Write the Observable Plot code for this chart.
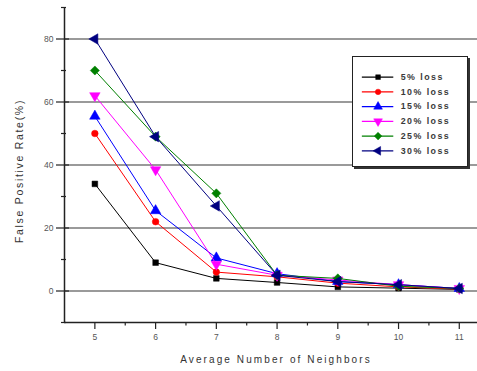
<!DOCTYPE html>
<html>
<head>
<meta charset="utf-8">
<script src="https://cdn.jsdelivr.net/npm/d3@7"></script>
<script src="https://cdn.jsdelivr.net/npm/@observablehq/plot@0.6"></script>
<style>
  body { margin: 0; background: #fff; }
  #chart { position: relative; width: 477px; height: 371px; font-family: "Liberation Sans", Arial, sans-serif; }
  #legend { position: absolute; left: 352px; top: 56px; }
  #legend svg { display: block; background: #fff; border: 1px solid #222; box-sizing: border-box; box-shadow: 2px 2px 0 #333; }
</style>
</head>
<body>
<div id="chart"><div id="legend"></div></div>
<script>
// Average number of neighbors (x) and false positive rate in % per loss level
const neighbors = [5, 6, 7, 8, 9, 10, 11];
const series = ["5% loss", "10% loss", "15% loss", "20% loss", "25% loss", "30% loss"];
const loss5  = [34, 9, 4, 2.7, 1.3, 0.9, 0.5];
const loss10 = [50, 22, 6, 4.5, 2.5, 1.3, 0.6];
const loss15 = [55.5, 25.5, 10.5, 5.5, 3, 2, 0.8];
const loss20 = [62, 38.5, 8.5, 5, 3.5, 2, 0.8];
const loss25 = [70, 49, 31, 5, 4, 1.5, 0.8];
const loss30 = [80, 49, 27, 5, 3, 2, 0.8];
const colors = ["#000000", "#ff0000", "#0000ff", "#ff00ff", "#008000", "#000080"];

const xTitle = "Average Number of Neighbors";
const yTitle = "False Positive Rate(%)";
const yMajor = [0, 20, 40, 60, 80];
const yMinor = [-10, 10, 30, 50, 70, 90];
const xMajor = [5, 6, 7, 8, 9, 10, 11];
const xMinor = [5.5, 6.5, 7.5, 8.5, 9.5, 10.5];

// Custom triangle symbols (pointing down and left) in the style of d3.symbolTriangle
const triDown = {
  draw(ctx, size) {
    const y = -Math.sqrt(size / (Math.sqrt(3) * 3));
    ctx.moveTo(0, -2 * y);
    ctx.lineTo(-Math.sqrt(3) * y, y);
    ctx.lineTo(Math.sqrt(3) * y, y);
    ctx.closePath();
  }
};
const triLeft = {
  draw(ctx, size) {
    const y = -Math.sqrt(size / (Math.sqrt(3) * 3));
    ctx.moveTo(2 * y, 0);
    ctx.lineTo(-y, Math.sqrt(3) * y);
    ctx.lineTo(-y, -Math.sqrt(3) * y);
    ctx.closePath();
  }
};
const symbols = [d3.symbolSquare, d3.symbolCircle, d3.symbolTriangle, triDown, d3.symbolDiamond2, triLeft];
const radii = [3.2, 3.3, 3.9, 3.9, 4.1, 3.9];

const values = [loss5, loss10, loss15, loss20, loss25, loss30];
const rows = [];
series.forEach((s, i) => {
  neighbors.forEach((n, j) => rows.push({series: s, idx: i, x: n, y: values[i][j]}));
});

const font = "Liberation Sans, Arial, sans-serif";
const blank = () => "";

const marks = [
  Plot.ruleY(yMajor, {stroke: "#9a9a9a", strokeWidth: 2}),
  Plot.ruleX([4.5], {stroke: "#222", strokeWidth: 1.5}),
  Plot.ruleY([-10], {stroke: "#222", strokeWidth: 1.5}),
  // y ticks crossing the axis line
  Plot.axisY({ticks: yMajor, tickSize: 13, dx: 5, tickFormat: blank, label: null, stroke: "#222", strokeWidth: 1.2}),
  Plot.axisY({ticks: yMinor, tickSize: 5, dx: 2, tickFormat: blank, label: null, stroke: "#222", strokeWidth: 1.2}),
  Plot.axisY({ticks: yMajor, tickSize: 0, tickPadding: 11, tickFormat: "d", fontSize: 8.5, fill: "#555", label: null}),
  // x ticks below the axis line
  Plot.axisX({ticks: xMajor, tickSize: 7, tickFormat: blank, label: null, stroke: "#222", strokeWidth: 1.2}),
  Plot.axisX({ticks: xMinor, tickSize: 3.5, tickFormat: blank, label: null, stroke: "#222", strokeWidth: 1.2}),
  Plot.axisX({ticks: xMajor, tickSize: 0, tickPadding: 11, tickFormat: "d", fontSize: 8.5, fill: "#555", label: null}),
  Plot.text([xTitle], {frameAnchor: "bottom", dy: 40, dx: 5, fontSize: 10, fill: "#333"}),
  Plot.text([yTitle], {frameAnchor: "left", textAnchor: "middle", dx: -45, dy: 6, rotate: -90, fontSize: 10.5, fill: "#333"})
];

series.forEach((s, i) => {
  const data = rows.filter(d => d.idx === i);
  marks.push(Plot.line(data, {x: "x", y: "y", stroke: colors[i], strokeWidth: 1}));
  marks.push(Plot.dot(data, {x: "x", y: "y", symbol: () => symbols[i], r: radii[i], fill: colors[i], stroke: colors[i], strokeWidth: 0.5}));
});

const chart = Plot.plot({
  width: 477,
  height: 371,
  marginLeft: 64,
  marginRight: 0,
  marginTop: 7,
  marginBottom: 49,
  style: {fontFamily: font, background: "#fff"},
  x: {domain: [4.5, 11.3]},
  y: {domain: [-10, 90]},
  symbol: {type: "identity"},
  marks
});
document.getElementById("chart").prepend(chart);

// Spaced-out lettering for the axis titles
d3.select(chart).selectAll("text").each(function() {
  const t = this.textContent;
  if (t === xTitle) this.setAttribute("letter-spacing", "2.1");
  if (t === yTitle) this.setAttribute("letter-spacing", "1.7");
});

// Legend: a small plot whose rows are the loss levels
const legendRows = series.map((s, i) => ({series: s, idx: i}));
const legendMarks = [];
legendRows.forEach((d, i) => {
  legendMarks.push(Plot.ruleY([d], {y: "series", x1: 0, x2: 1, stroke: colors[i], strokeWidth: 1.2}));
  legendMarks.push(Plot.dot([d], {x: () => 0.5, y: "series", symbol: () => symbols[i], r: radii[i] * 0.85, fill: colors[i], stroke: colors[i], strokeWidth: 0.5}));
});
legendMarks.push(Plot.text(legendRows, {x: () => 1, y: "series", text: "series", dx: 7, textAnchor: "start", fontSize: 9, fontWeight: "bold", fill: "#3a3a3a"}));

const legend = Plot.plot({
  width: 116,
  height: 111,
  marginLeft: 9,
  marginRight: 75,
  marginTop: 0,
  marginBottom: 0,
  style: {fontFamily: font},
  x: {domain: [0, 1], axis: null},
  y: {type: "point", domain: series, range: [12, 103], axis: null},
  symbol: {type: "identity"},
  marks: legendMarks
});
document.getElementById("legend").append(legend);
d3.select(legend).selectAll("text").attr("letter-spacing", "1.5");
</script>
</body>
</html>
